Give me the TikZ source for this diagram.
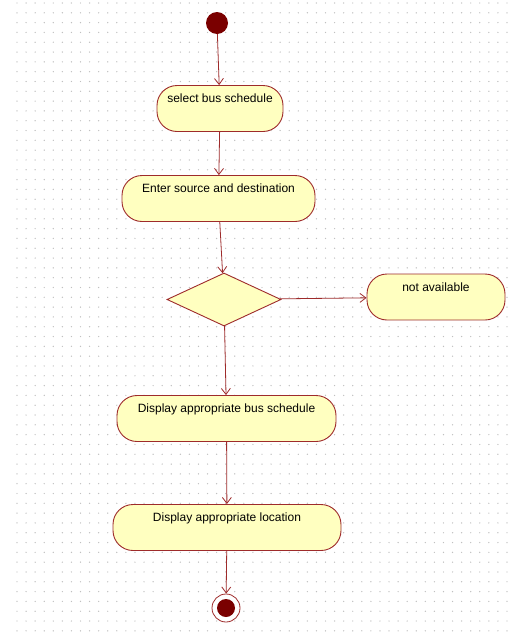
\documentclass[tikz,border=0pt]{standalone}
\usepackage{fontspec}
\setmainfont{Liberation Sans}
\usetikzlibrary{arrows.meta,positioning,shapes.geometric}
\definecolor{actfill}{HTML}{FFFFC0}
\definecolor{actline}{HTML}{9E2B2B}
\definecolor{dotgray}{HTML}{C0C0C0}
\definecolor{startred}{HTML}{7A0000}

\begin{document}
\begin{tikzpicture}[
  x=1pt,y=-1pt,
  act/.style={draw=actline, fill=actfill, line width=0.9pt, rounded corners=20pt, align=center, font=\fontsize{12}{14}\selectfont, text height=9pt, text depth=21pt, inner ysep=8pt, inner xsep=0pt},
  dec/.style={diamond, draw=actline, fill=actfill, line width=0.9pt, minimum width=114pt, minimum height=53pt, inner sep=0pt},
  start/.style={circle, fill=startred, minimum size=22pt, inner sep=0pt},
  stop/.style={circle, draw=actline, fill=white, line width=0.8pt, minimum size=28pt, inner sep=0pt},
  arr/.style={draw=actline, line width=0.8pt, -{Straight Barb[length=6pt,width=9pt]}}
]
\fill[white] (0,0) rectangle (508,635);
\useasboundingbox (0,0) rectangle (508,635);
% dotted grid
\foreach \i in {0,...,54} {
  \foreach \j in {0,...,64} {
    \fill[dotgray] (17+9.074*\i,3+9.81*\j) circle (0.7);
  }
}
\node[start] (init) at (217,23) {};
\node[act, minimum width=126pt] (select) at (220,108.5) {select bus schedule};
\node[act, minimum width=193pt] (enter) at (218.5,198.5) {Enter source and destination};
\node[dec] (choice) at (224,299.5) {};
\node[act, minimum width=138pt] (navail) at (436,297) {not available};
\node[act, minimum width=219pt] (showbus) at (226.5,418.5) {Display appropriate bus schedule};
\node[act, minimum width=228pt] (showloc) at (227,527.5) {Display appropriate location};
\node[stop] (final) at (226,608) {};
\fill[startred] (final) circle (9);
\draw[arr] (init) -- (select);
\draw[arr] (select) -- (enter);
\draw[arr] (enter) -- (choice);
\draw[arr] (choice) -- (navail);
\draw[arr] (choice) -- (showbus);
\draw[arr] (showbus) -- (showloc);
\draw[arr] (showloc) -- (final);
\end{tikzpicture}
\end{document}
